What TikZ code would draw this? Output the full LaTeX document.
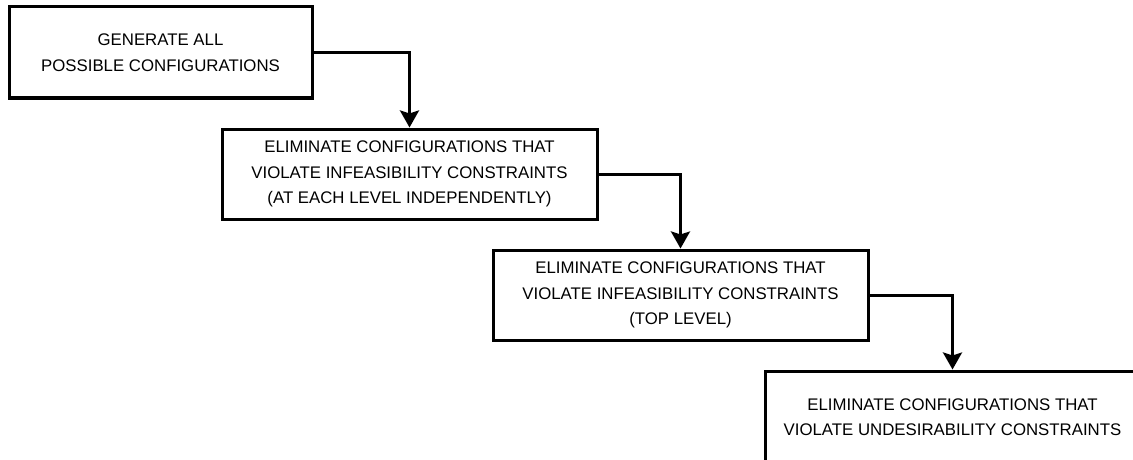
\documentclass[tikz,border=0pt]{standalone}
\usepackage{fontspec}
\setmainfont{Liberation Sans}
\usetikzlibrary{arrows.meta}
\begin{document}
\begin{tikzpicture}[x=1pt,y=-1pt,
  stepbox/.style={draw, line width=3pt, rectangle, align=center, inner sep=0pt,
    font=\fontsize{16.8}{25.5}\selectfont},
  flow/.style={line width=3pt, -{Stealth[length=17pt,width=19pt,inset=3pt]}}]
  \useasboundingbox (0,0) rectangle (1133,460);
  \node[stepbox, minimum width=303pt, minimum height=91pt] (b1) at (160.5,52.5)
    {GENERATE ALL\\POSSIBLE CONFIGURATIONS};
  \node[stepbox, minimum width=375pt, minimum height=90pt] (b2) at (409.5,174)
    {ELIMINATE CONFIGURATIONS THAT\\VIOLATE INFEASIBILITY CONSTRAINTS\\(AT EACH LEVEL INDEPENDENTLY)};
  \node[stepbox, minimum width=375pt, minimum height=90pt] (b3) at (680.5,295)
    {ELIMINATE CONFIGURATIONS THAT\\VIOLATE INFEASIBILITY CONSTRAINTS\\(TOP LEVEL)};
  \node[stepbox, minimum width=375pt, minimum height=92pt] (b4) at (952.5,417)
    {ELIMINATE CONFIGURATIONS THAT\\VIOLATE UNDESIRABILITY CONSTRAINTS};
  \draw[flow] (b1.east) -| (b2.north);
  \draw[flow] (b2.east) -| (b3.north);
  \draw[flow] (b3.east) -| (b4.north);
\end{tikzpicture}
\end{document}
